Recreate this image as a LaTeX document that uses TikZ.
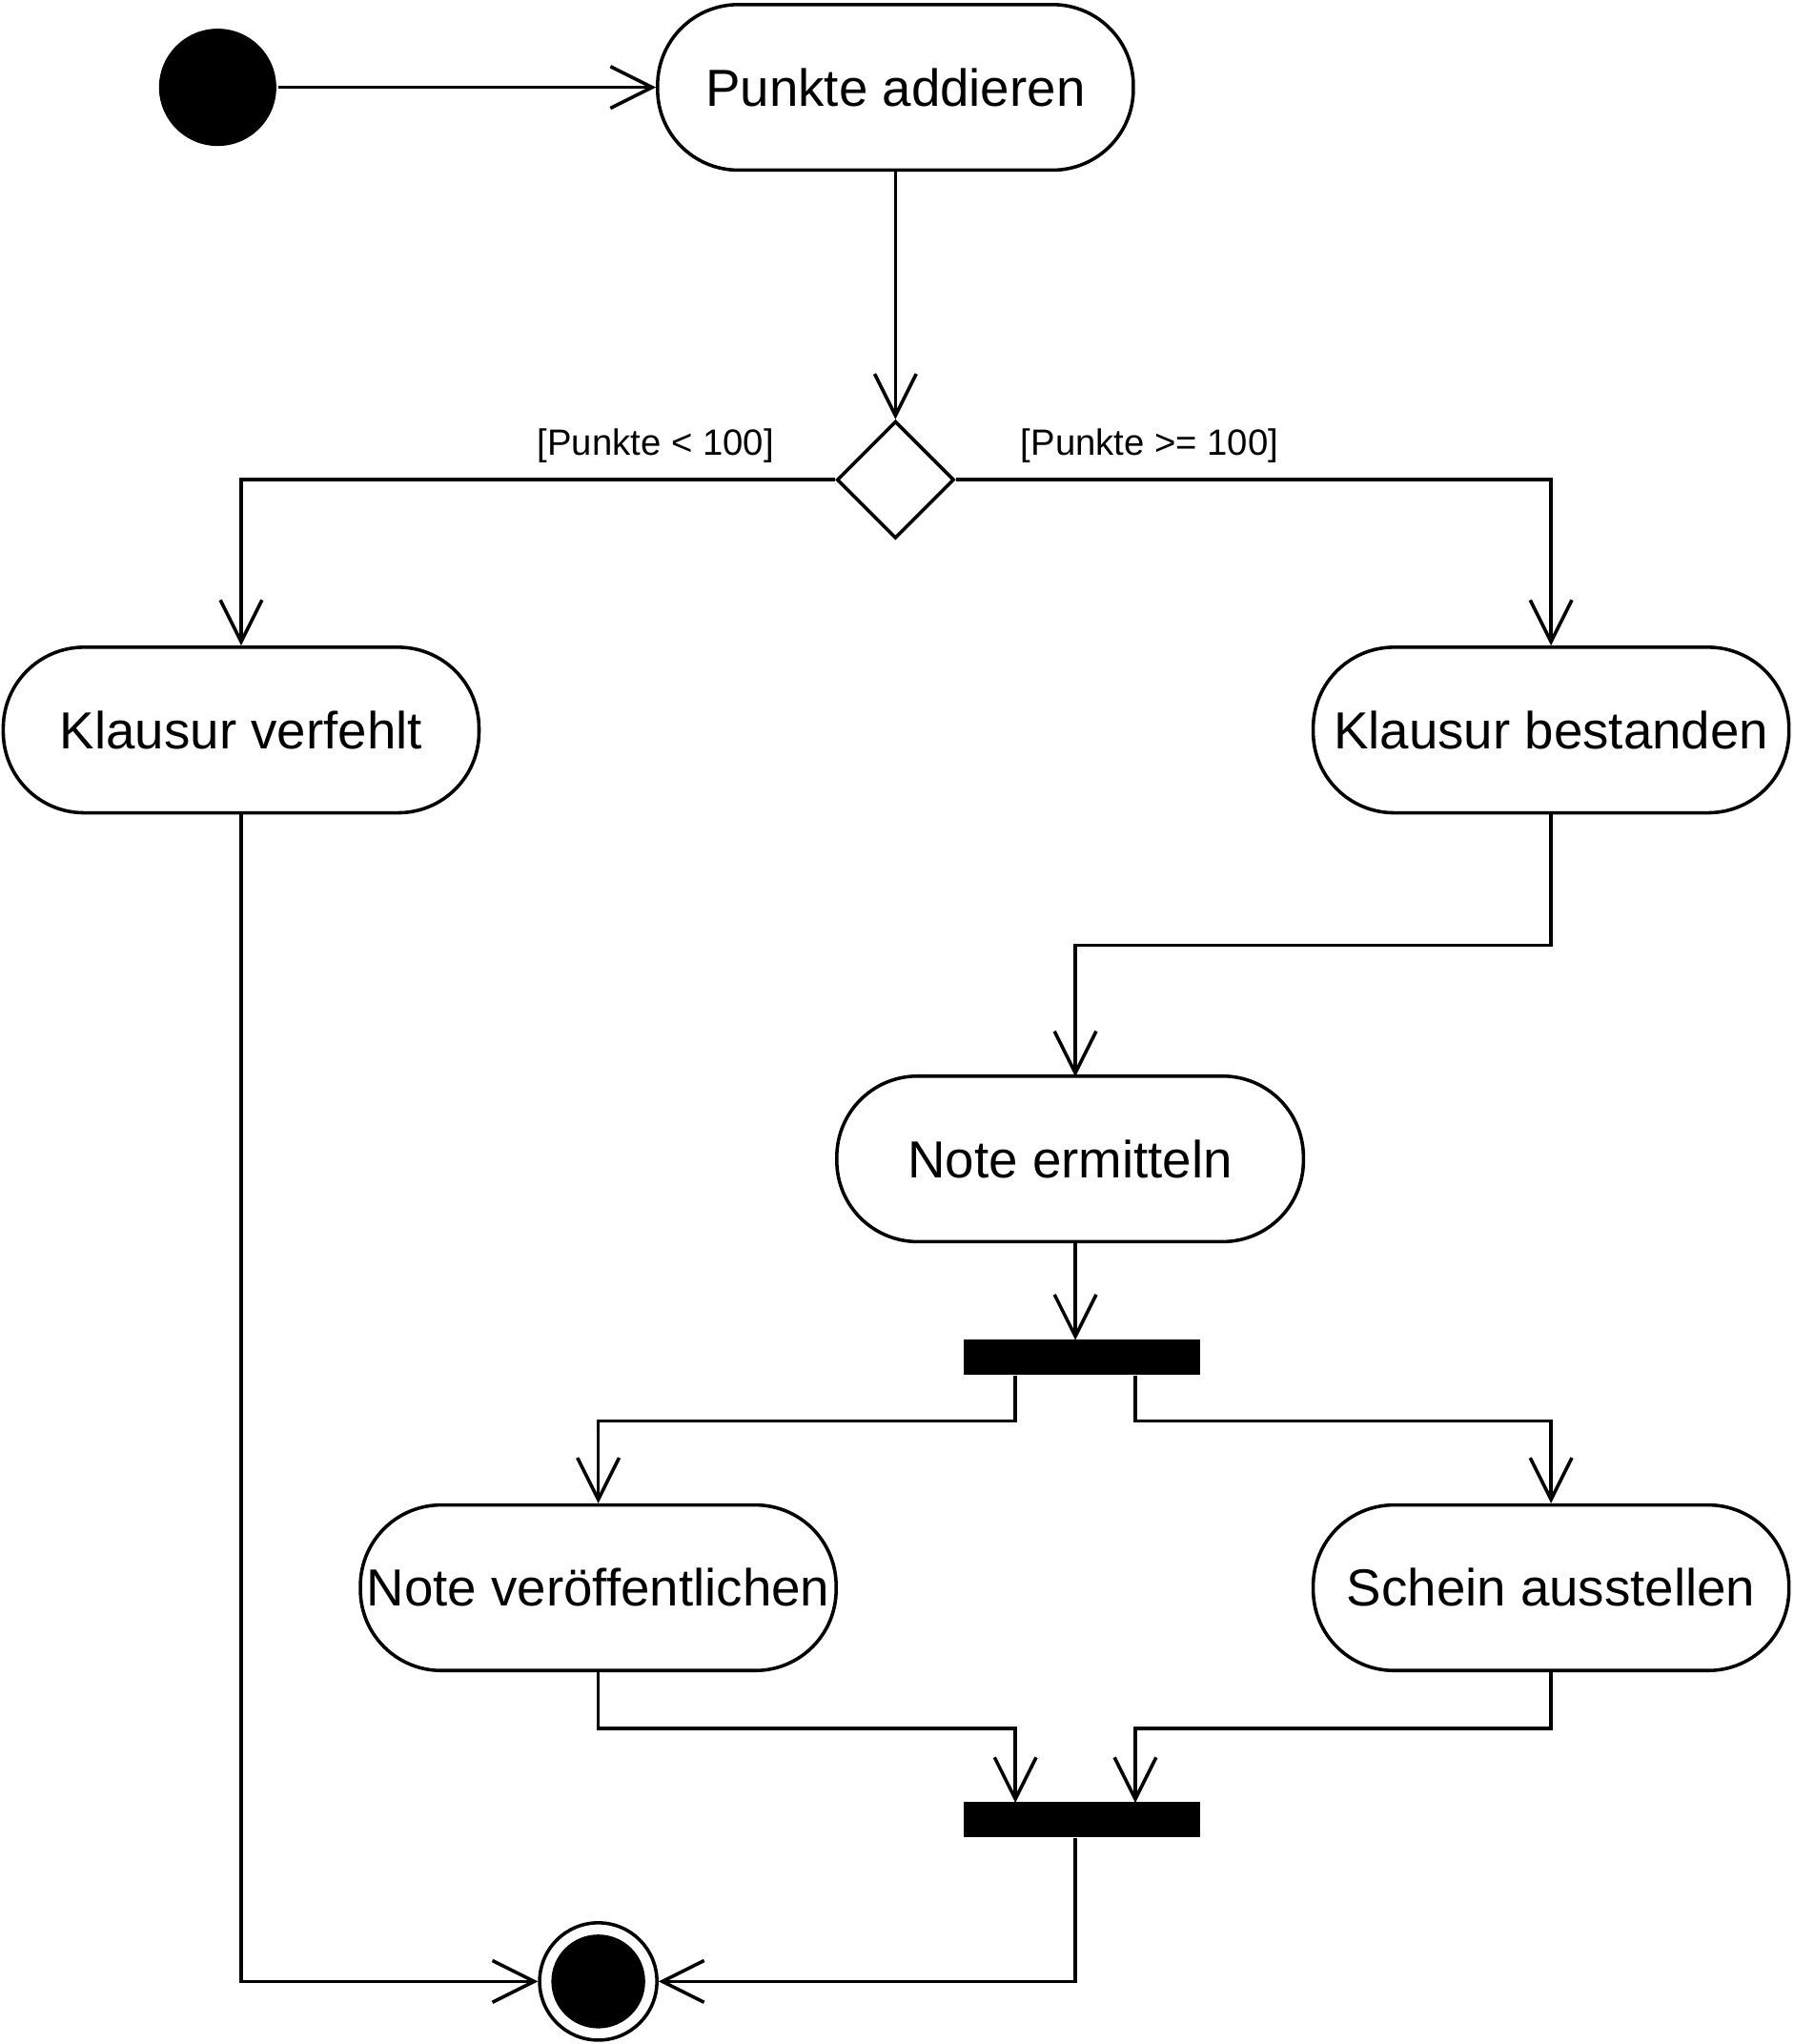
\documentclass[tikz,border=0pt]{standalone}
\usepackage{fontspec}
\setmainfont{Liberation Sans}
\usetikzlibrary{arrows.meta,shapes.geometric}
\begin{document}
\begin{tikzpicture}[x=0.5pt,y=-0.5pt,line width=1.3pt,
 act/.style={draw,rectangle,rounded corners=31pt,minimum width=182.5pt,minimum height=63.5pt,inner sep=0pt,font=\fontsize{20}{24}\selectfont},
 bar/.style={fill=black,minimum width=90.5pt,minimum height=13.5pt,inner sep=0pt},
 lab/.style={font=\fontsize{14}{16}\selectfont},
 a/.style={-{Straight Barb[length=16pt,width=16pt,line width=1.3pt]}}]
\useasboundingbox (0,0) rectangle (1376,1568);
\node[circle,fill=black,minimum size=45pt,inner sep=0pt] (s) at (167,67) {};
\node[act] (pa) at (687,67) {Punkte addieren};
\node[diamond,draw,minimum size=45pt,inner sep=0pt] (d) at (687,368) {};
\node[act] (kv) at (185,560) {Klausur verfehlt};
\node[act] (kb) at (1190,560) {Klausur bestanden};
\node[act,minimum width=179pt] (ne) at (821,889) {Note ermitteln};
\node[bar] (f) at (830,1041) {};
\node[act] (nv) at (459,1218) {Note veröffentlichen};
\node[act] (sa) at (1190,1218) {Schein ausstellen};
\node[bar] (j) at (830,1396) {};
\node[circle,draw,minimum size=45pt,inner sep=0pt] (e) at (459,1520) {};
\node[circle,fill=black,minimum size=36pt,inner sep=0pt] at (e) {};
\node[lab] (l1) at (503,342) {[Punkte < 100]};
\node[lab] (l2) at (882,342) {[Punkte >= 100]};
\draw[a] (s) -- (pa);
\draw[a] (pa) -- (d.north);
\draw[a] (d.west) -| (kv.north);
\draw[a] (d.east) -| (kb.north);
\draw[a] (kb.south) |- (825,725) -- (825,826);
\draw[a] (ne.south -| 825,0) -- (825,1028);
\draw[a] (779,1055) |- (459,1090) -- (nv.north);
\draw[a] (871,1055) |- (1190,1090) -- (sa.north);
\draw[a] (nv.south) |- (779,1326) -- (779,1383);
\draw[a] (sa.south) |- (871,1326) -- (871,1383);
\draw[a] (825,1410) |- (e.east);
\draw[a] (kv.south) |- (e.west);
\end{tikzpicture}
\end{document}
